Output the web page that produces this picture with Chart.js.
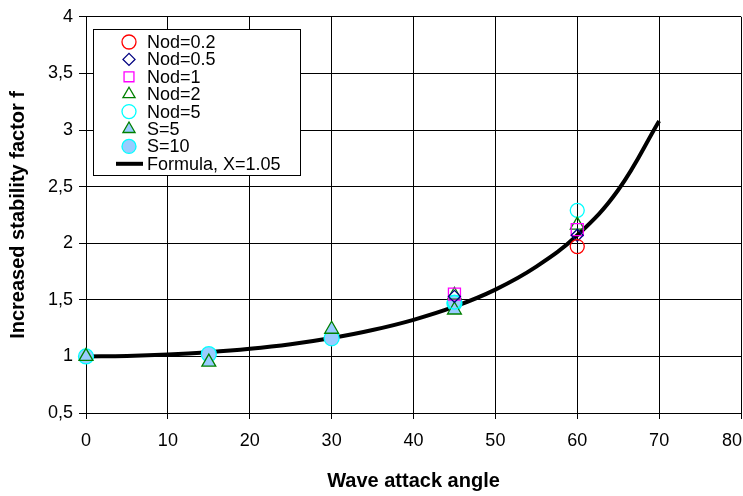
<!DOCTYPE html>
<html>
<head>
<meta charset="utf-8">
<script src="https://cdn.jsdelivr.net/npm/chart.js@4/dist/chart.umd.min.js"></script>
<style>
  html, body { margin: 0; padding: 0; background: #fff; overflow: hidden; }
  #wrap { width: 743px; height: 496px; position: relative; overflow: hidden; }
  #c { position: absolute; left: 0; top: 0; }
</style>
</head>
<body>
<div id="wrap"><canvas id="c" width="752" height="496"></canvas></div>
<script>
// ---- data ----
const seriesLabels = ["Nod=0.2", "Nod=0.5", "Nod=1", "Nod=2", "Nod=5", "S=5", "S=10", "Formula, X=1.05"];

const nod02Angle = [60];
const nod02F     = [1.97];
const nod05Angle = [45, 60];
const nod05F     = [1.53, 2.07];
const nod1Angle  = [45, 60];
const nod1F      = [1.55, 2.12];
const nod2Angle  = [45, 60];
const nod2F      = [1.54, 2.16];
const nod5Angle  = [45, 60];
const nod5F      = [1.48, 2.29];
const s5Angle    = [0, 15, 30, 45];
const s5F        = [1.00, 0.95, 1.24, 1.41];
const s10Angle   = [0, 15, 30, 45];
const s10F       = [1.00, 1.02, 1.16, 1.47];

const formulaAngle = [0, 5, 10, 15, 20, 25, 30, 35, 40, 45, 50, 55, 60, 65, 70];
const formulaF     = [1.000, 1.004, 1.016, 1.037, 1.067, 1.108, 1.163, 1.233, 1.323, 1.439, 1.590, 1.793, 2.070, 2.470, 3.080];

const xTicks = [0, 10, 20, 30, 40, 50, 60, 70, 80];
const yTicks = [0.5, 1, 1.5, 2, 2.5, 3, 3.5, 4];

function pts(xs, ys) { return xs.map((x, i) => ({ x: x, y: ys[i] })); }

const FONT = "'Liberation Sans', Arial, sans-serif";
const lastX = xTicks[xTicks.length - 1];
const VIEW_W = 743;

function scatterDs(label, data, style, border, fill, radius) {
  return {
    type: 'scatter', label: label, data: data,
    pointStyle: style, pointRadius: radius, pointHoverRadius: radius,
    pointBorderColor: border, pointBackgroundColor: fill, pointBorderWidth: 1.3,
    borderColor: border, backgroundColor: fill, showLine: false, order: 1, clip: false
  };
}

const datasets = [
  scatterDs(seriesLabels[0], pts(nod02Angle, nod02F), 'circle', '#FF0000', 'rgba(0,0,0,0)', 7),
  scatterDs(seriesLabels[1], pts(nod05Angle, nod05F), 'rectRot', '#000080', 'rgba(0,0,0,0)', 6),
  scatterDs(seriesLabels[2], pts(nod1Angle, nod1F), 'rect', '#FF00FF', 'rgba(0,0,0,0)', 8.5),
  scatterDs(seriesLabels[3], pts(nod2Angle, nod2F), 'triangle', '#008000', 'rgba(0,0,0,0)', 8),
  scatterDs(seriesLabels[4], pts(nod5Angle, nod5F), 'circle', '#00FFFF', 'rgba(0,0,0,0)', 7),
  scatterDs(seriesLabels[5], pts(s5Angle, s5F), 'triangle', '#008000', '#99CCFF', 8),
  scatterDs(seriesLabels[6], pts(s10Angle, s10F), 'circle', '#00FFFF', '#99CCFF', 7.5),
  {
    type: 'line', label: seriesLabels[7], data: pts(formulaAngle, formulaF),
    borderColor: '#000000', backgroundColor: '#000000', borderWidth: 4,
    pointRadius: 0, tension: 0.4, fill: false, order: 5
  }
];

const legendPlugin = {
  id: 'insideLegend',
  afterDatasetsDraw(chart) {
    const ctx = chart.ctx;
    const box = { x: 93.5, y: 29.5, w: 207, h: 146 };
    ctx.save();
    ctx.fillStyle = '#fff';
    ctx.strokeStyle = '#000';
    ctx.lineWidth = 1;
    ctx.fillRect(box.x, box.y, box.w, box.h);
    ctx.strokeRect(box.x, box.y, box.w, box.h);
    const rowY0 = 42, rowH = 17.4, mx = 129, tx = 147;
    ctx.font = '18px ' + FONT;
    ctx.textBaseline = 'middle';
    ctx.textAlign = 'left';
    chart.data.datasets.forEach((ds, i) => {
      const y = rowY0 + i * rowH;
      if (ds.type === 'line') {
        ctx.strokeStyle = ds.borderColor;
        ctx.lineWidth = 4;
        ctx.beginPath();
        ctx.moveTo(116, y);
        ctx.lineTo(143, y);
        ctx.stroke();
      } else {
        ctx.strokeStyle = ds.pointBorderColor;
        ctx.fillStyle = ds.pointBackgroundColor;
        ctx.lineWidth = ds.pointBorderWidth;
        const r = Math.min(ds.pointRadius, 7);
        Chart.helpers.drawPoint(ctx, { pointStyle: ds.pointStyle, radius: r, borderWidth: ds.pointBorderWidth, rotation: 0 }, mx, y);
      }
      ctx.fillStyle = '#000';
      ctx.fillText(ds.label, tx, y + 1);
    });
    ctx.restore();
  }
};

// the last x tick label is drawn right-aligned inside the visible width
const lastLabelPlugin = {
  id: 'lastXLabel',
  afterDraw(chart) {
    const ctx = chart.ctx;
    const sx = chart.scales.x;
    ctx.save();
    ctx.font = '18px ' + FONT;
    ctx.fillStyle = '#000';
    ctx.textAlign = 'right';
    ctx.textBaseline = 'middle';
    const px = sx.getPixelForValue(lastX);
    ctx.fillText(String(lastX), Math.min(px + 10, VIEW_W - 1), sx.top + 6 + 11 + 11);
    ctx.restore();
  }
};

new Chart(document.getElementById('c'), {
  data: { datasets: datasets },
  options: {
    responsive: false,
    animation: false,
    events: [],
    layout: { padding: { left: 0, right: 2, top: 16, bottom: 0 } },
    plugins: { legend: { display: false }, tooltip: { enabled: false } },
    scales: {
      x: {
        type: 'linear', min: 0, max: 80,
        afterBuildTicks(scale) { scale.ticks = xTicks.map(v => ({ value: v })); },
        afterFit(scale) { scale.height = 83; },
        grid: { color: '#000', lineWidth: 1, drawTicks: true, tickLength: 6, tickColor: '#000' },
        border: { color: '#000', width: 1 },
        ticks: { color: '#000', font: { family: FONT, size: 18 }, padding: 11, maxRotation: 0, autoSkip: false,
          callback: v => (v === lastX ? '' : String(v)) },
        title: { display: true, text: 'Wave attack angle', color: '#000', font: { family: FONT, size: 20, weight: 'bold' }, padding: { top: 4, bottom: 3 } }
      },
      y: {
        type: 'linear', min: 0.5, max: 4,
        afterBuildTicks(scale) { scale.ticks = yTicks.map(v => ({ value: v })); },
        afterFit(scale) { scale.width = 86; },
        grid: { color: '#000', lineWidth: 1, drawTicks: true, tickLength: 7, tickColor: '#000' },
        border: { color: '#000', width: 1 },
        ticks: { color: '#000', font: { family: FONT, size: 18 }, padding: 6,
          callback: v => String(v).replace('.', ',') },
        title: { display: true, text: 'Increased stability factor f', color: '#000', font: { family: FONT, size: 20, weight: 'bold' }, padding: { top: 6, bottom: 4 } }
      }
    }
  },
  plugins: [legendPlugin, lastLabelPlugin]
});
</script>
</body>
</html>
